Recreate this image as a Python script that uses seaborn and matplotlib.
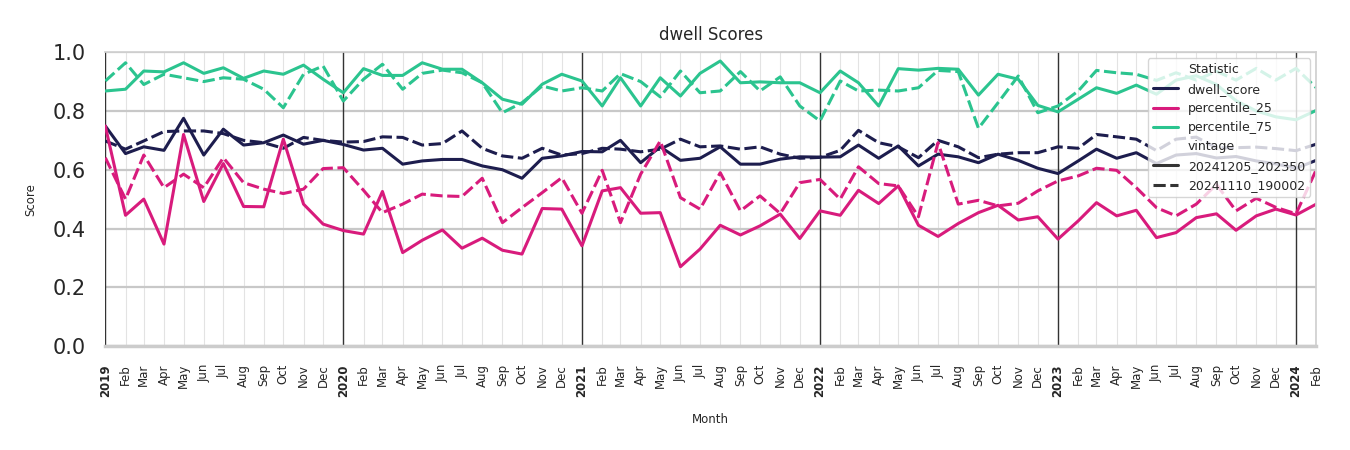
import pandas as pd
import numpy as np
import matplotlib.pyplot as plt
import seaborn as sns

sns.set(style="whitegrid")
plt.rcParams['font.family'] = ['DejaVu Sans']

months = pd.date_range('2019-01-01', '2024-02-01', freq='MS')

# vintage 20241205_202350
dwell_new = [0.749, 0.655, 0.678, 0.666, 0.775, 0.650, 0.738, 0.684, 0.692, 0.718, 0.687, 0.700,
             0.686, 0.667, 0.673, 0.619, 0.630, 0.635, 0.635, 0.613, 0.600, 0.571, 0.639, 0.647,
             0.662, 0.661, 0.700, 0.624, 0.678, 0.632, 0.639, 0.678, 0.619, 0.619, 0.636, 0.644,
             0.643, 0.644, 0.684, 0.639, 0.681, 0.613, 0.653, 0.644, 0.624, 0.653, 0.632, 0.605,
             0.587, 0.630, 0.670, 0.639, 0.658, 0.621, 0.650, 0.655, 0.640, 0.645, 0.630, 0.620,
             0.605, 0.632]
p25_new = [0.749, 0.445, 0.500, 0.347, 0.720, 0.492, 0.621, 0.475, 0.474, 0.704, 0.483, 0.415,
           0.393, 0.381, 0.526, 0.318, 0.360, 0.395, 0.333, 0.367, 0.326, 0.313, 0.468, 0.466,
           0.341, 0.528, 0.539, 0.452, 0.454, 0.270, 0.330, 0.411, 0.378, 0.409, 0.449, 0.366,
           0.460, 0.445, 0.530, 0.485, 0.545, 0.411, 0.373, 0.417, 0.454, 0.479, 0.429, 0.440,
           0.364, 0.426, 0.488, 0.443, 0.462, 0.369, 0.386, 0.437, 0.450, 0.394, 0.443, 0.466,
           0.446, 0.483]
p75_new = [0.868, 0.874, 0.936, 0.933, 0.964, 0.928, 0.947, 0.911, 0.936, 0.925, 0.956, 0.908,
           0.862, 0.944, 0.921, 0.921, 0.964, 0.942, 0.942, 0.896, 0.840, 0.823, 0.891, 0.925,
           0.902, 0.817, 0.913, 0.817, 0.913, 0.851, 0.928, 0.970, 0.896, 0.899, 0.896, 0.896,
           0.862, 0.936, 0.896, 0.817, 0.944, 0.939, 0.945, 0.942, 0.854, 0.925, 0.908, 0.819,
           0.797, 0.840, 0.879, 0.860, 0.888, 0.857, 0.905, 0.920, 0.890, 0.835, 0.800, 0.780,
           0.770, 0.802]

# vintage 20241110_190002
dwell_old = [0.698, 0.670, 0.698, 0.730, 0.732, 0.732, 0.723, 0.700, 0.692, 0.673, 0.710, 0.700,
             0.694, 0.696, 0.712, 0.710, 0.684, 0.689, 0.732, 0.673, 0.647, 0.639, 0.673, 0.650,
             0.655, 0.673, 0.670, 0.661, 0.670, 0.704, 0.678, 0.681, 0.670, 0.678, 0.653, 0.639,
             0.642, 0.666, 0.734, 0.692, 0.678, 0.641, 0.700, 0.678, 0.641, 0.653, 0.658, 0.658,
             0.678, 0.673, 0.720, 0.712, 0.704, 0.665, 0.704, 0.711, 0.675, 0.675, 0.677, 0.672,
             0.665, 0.687]
p25_old = [0.641, 0.500, 0.650, 0.539, 0.585, 0.539, 0.641, 0.556, 0.534, 0.519, 0.534, 0.604,
           0.607, 0.530, 0.454, 0.483, 0.517, 0.511, 0.509, 0.571, 0.420, 0.471, 0.522, 0.573,
           0.452, 0.598, 0.420, 0.585, 0.698, 0.505, 0.466, 0.590, 0.460, 0.511, 0.451, 0.556,
           0.567, 0.500, 0.610, 0.553, 0.545, 0.440, 0.692, 0.483, 0.496, 0.477, 0.486, 0.528,
           0.562, 0.579, 0.605, 0.598, 0.539, 0.471, 0.443, 0.483, 0.550, 0.460, 0.503, 0.472,
           0.450, 0.600]
p75_old = [0.902, 0.964, 0.890, 0.925, 0.913, 0.900, 0.913, 0.908, 0.874, 0.811, 0.925, 0.953,
           0.834, 0.908, 0.959, 0.874, 0.928, 0.939, 0.930, 0.896, 0.794, 0.828, 0.885, 0.868,
           0.879, 0.868, 0.927, 0.900, 0.848, 0.936, 0.862, 0.868, 0.934, 0.868, 0.916, 0.817,
           0.766, 0.902, 0.868, 0.871, 0.868, 0.879, 0.938, 0.934, 0.741, 0.828, 0.919, 0.794,
           0.817, 0.868, 0.938, 0.930, 0.925, 0.904, 0.930, 0.905, 0.935, 0.905, 0.945, 0.905,
           0.945, 0.879]

stats = ['dwell_score', 'percentile_25', 'percentile_75']
vintages = ['20241205_202350', '20241110_190002']
palette = {'dwell_score': '#1d1d4e', 'percentile_25': '#d81b7c', 'percentile_75': '#2bc48f'}

series = {
    ('dwell_score', vintages[0]): dwell_new,
    ('percentile_25', vintages[0]): p25_new,
    ('percentile_75', vintages[0]): p75_new,
    ('dwell_score', vintages[1]): dwell_old,
    ('percentile_25', vintages[1]): p25_old,
    ('percentile_75', vintages[1]): p75_old,
}

# long format table for seaborn
frames = []
for (stat, vint), vals in series.items():
    frames.append(pd.DataFrame({'Month': months, 'Score': vals,
                                'Statistic': stat, 'vintage': vint}))
df = pd.concat(frames, ignore_index=True)

fig, ax = plt.subplots(figsize=(13.5, 4.5), dpi=100)
fig.subplots_adjust(left=0.078, right=0.975, top=0.884, bottom=0.231)

sns.lineplot(data=df, x='Month', y='Score', hue='Statistic', style='vintage',
             hue_order=stats, style_order=vintages, palette=palette,
             linewidth=2.2, ax=ax)

ax.set_xlim(months[0], months[-1])
ax.set_ylim(0, 1)

# month ticks, bold year labels on January
labels = [str(m.year) if m.month == 1 else m.strftime('%b') for m in months]
ax.set_xticks(months)
ax.set_xticklabels(labels, rotation=90, fontsize=8.5)
for lab, m in zip(ax.get_xticklabels(), months):
    if m.month == 1:
        lab.set_fontweight('bold')
ax.tick_params(axis='x', pad=13, length=0)
ax.tick_params(axis='y', labelsize=15, pad=14, length=0)

ax.grid(axis='x', color='#e3e3e3', linewidth=0.8)
ax.grid(axis='y', color='#c8c8c8', linewidth=1.6)
for m in months[months.month == 1]:
    ax.axvline(m, color='#333333', linewidth=1.0, zorder=1)

for side in ['top', 'right']:
    ax.spines[side].set_color('#d0d0d0')
ax.spines['bottom'].set_color('#cccccc')
ax.spines['bottom'].set_linewidth(2.5)
ax.spines['left'].set_visible(False)

ax.set_title('dwell Scores', fontsize=12, pad=9)
ax.set_xlabel('Month', fontsize=8.5, labelpad=12)
ax.set_ylabel('Score', fontsize=8.5, labelpad=11)

ax.legend(loc='upper right', fontsize=9, framealpha=0.8)

plt.savefig('out.png')
